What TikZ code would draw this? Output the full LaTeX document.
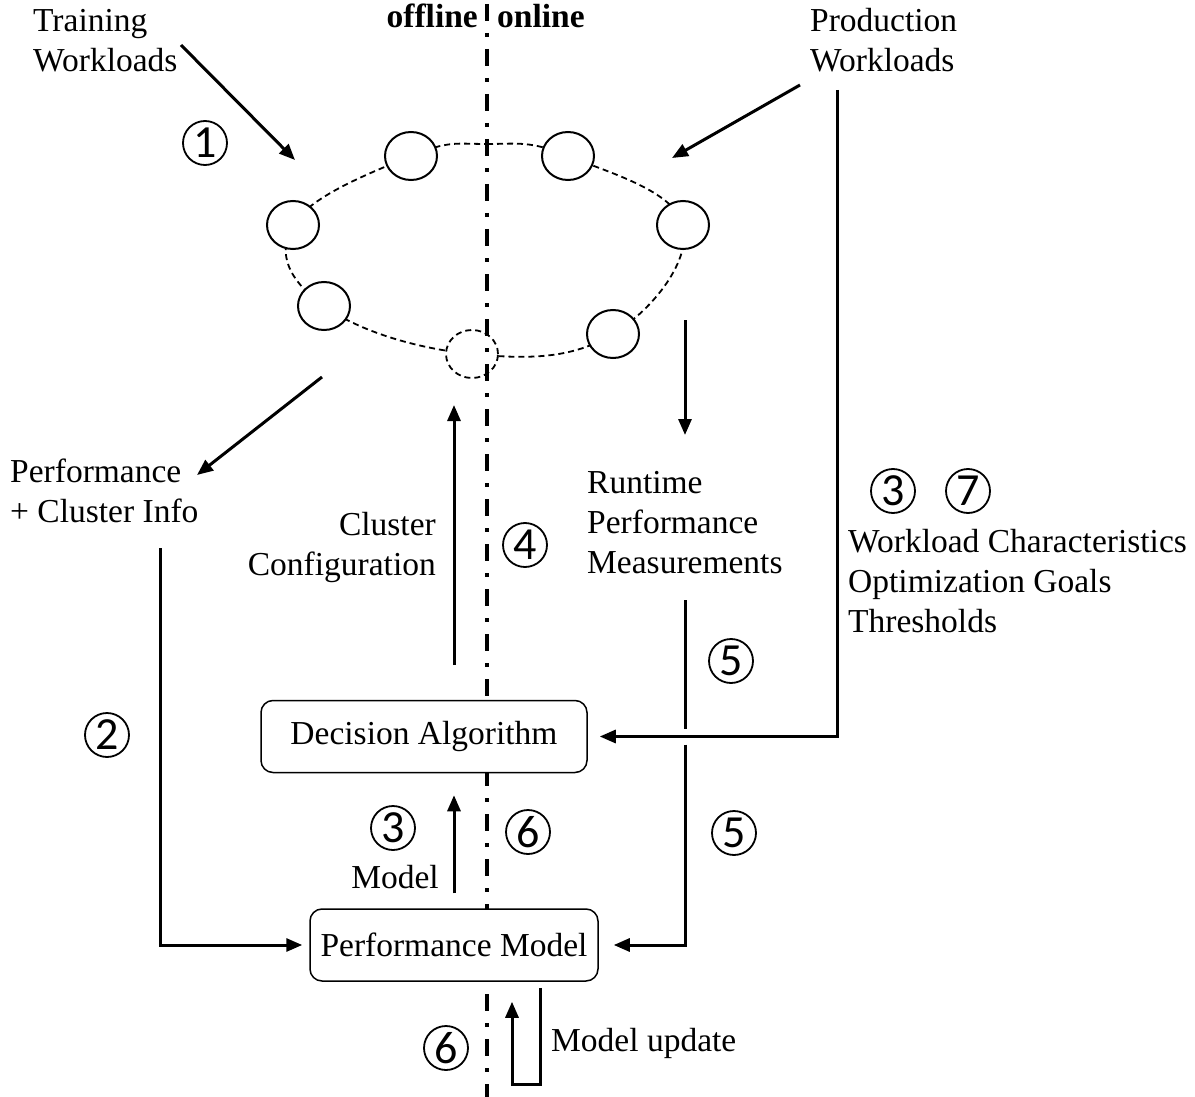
\documentclass[tikz,border=0pt]{standalone}
\usepackage{fontspec}
\setmainfont{Liberation Serif}
\newfontfamily\numfont{Carlito}
\usetikzlibrary{arrows.meta,shapes.geometric}
\begin{document}
\begin{tikzpicture}[x=1pt,y=-1pt,
  every node/.style={font=\fontsize{33.5}{40}\selectfont, inner sep=0pt},
  flow/.style={line width=3pt, -{Triangle[length=16pt,width=13pt]}},
  wire/.style={line width=3pt},
  box/.style={draw, line width=1.5pt, rounded corners=12pt, fill=white, minimum height=72pt},
  tag/.style={draw, circle, line width=1.8pt, minimum size=44pt,
    font=\numfont\fontsize{46}{46}\selectfont},
  server/.style={draw, ellipse, line width=2pt, fill=white, minimum width=52pt, minimum height=48pt},
  ring/.style={line width=1.8pt, dash pattern=on 6pt off 4pt},
  divider/.style={line width=4pt, dash pattern=on 17pt off 12pt on 4pt off 12pt},
]
\useasboundingbox (0,0) rectangle (1195,1097);

% cluster ring
\draw[ring] plot[smooth cycle, tension=0.7] coordinates {
  (411,156) (487,144) (568,156) (683,225) (613,334) (472,354) (324,306) (293,225)};
\node[server] (s1) at (411,156) {};
\node[server] (s2) at (568,156) {};
\node[server] (s3) at (293,225) {};
\node[server] (s4) at (683,225) {};
\node[server] (s5) at (324,306) {};
\node[server] (s6) at (613,334) {};
\node[server, ring, fill=white] (s7) at (472,354) {};

% offline / online divider
\coordinate (div-top) at (487,4);
\coordinate (div-bot) at (487,1097);
\draw[divider] (div-top) -- (div-bot);
\node[anchor=base east, font=\fontsize{33.5}{40}\selectfont\bfseries] (offline) at (478,28) {offline};
\node[anchor=base west, font=\fontsize{33.5}{40}\selectfont\bfseries] (online) at (497,28) {online};

% boxes
\node[box, minimum width=326pt] (dec) at (424,736.5) {Decision Algorithm};
\node[box, minimum width=288pt] (pm) at (454,945) {Performance Model};

% labels (anchored on the baseline of their last line)
\node[anchor=base west, align=left] (train) at (33,72) {Training\\Workloads};
\node[anchor=base west, align=left] (prod) at (810,72) {Production\\Workloads};
\node[anchor=base west, align=left] (perf) at (10,522) {Performance\\+ Cluster Info};
\node[anchor=base east, align=right] (conf) at (436,575) {Cluster\\Configuration};
\node[anchor=base west, align=left] (rt) at (587,573) {Runtime\\Performance\\Measurements};
\node[anchor=base west, align=left] (goals) at (848,632) {Workload Characteristics\\Optimization Goals\\Thresholds};
\node[anchor=base east] (model) at (439,888) {Model};
\node[anchor=base west] (upd) at (551,1051) {Model update};

% step markers
\node[tag] (t1) at (205,143) {1};
\node[tag] (t2) at (107,735) {2};
\node[tag] (t3a) at (393,828) {3};
\node[tag] (t4) at (525,545) {4};
\node[tag] (t5a) at (731,661) {5};
\node[tag] (t5b) at (734,833) {5};
\node[tag] (t6a) at (528,832) {6};
\node[tag] (t6b) at (446,1048) {6};
\node[tag] (t3b) at (893,491) {3};
\node[tag] (t7) at (968,491) {7};

% connector end points
\coordinate (train-out) at (181,45);
\coordinate (train-in) at (295,160);
\coordinate (prod-out) at (800,85);
\coordinate (prod-in) at (672,158);
\coordinate (goals-out) at (837,90);
\coordinate (ring-out) at (322,377);
\coordinate (perf-in) at (197,475);
\coordinate (perf-out) at (160,548);
\coordinate (ring-rt) at (685,320);
\coordinate (rt-in) at (685,435);
\coordinate (rt-out) at (685,600);
\coordinate (conf-out) at (454,665);
\coordinate (conf-in) at (454,405);
\coordinate (cross) at (rt-out |- dec.east);

% connectors
\draw[flow] (train-out) -- (train-in);
\draw[flow] (prod-out) -- (prod-in);
\draw[flow] (ring-out) -- (perf-in);
\draw[flow] (ring-rt) -- (rt-in);
\draw[flow] (conf-out) -- (conf-in);
\draw[flow, shorten >=12pt] (goals-out) |- (dec.east);
\draw[wire] (rt-out) -- ([yshift=8pt]cross);
\draw[flow, shorten >=15pt] ([yshift=-8pt]cross) |- (pm.east);
\draw[flow, shorten >=7pt] (perf-out) |- (pm.west);
\draw[flow, shorten <=15pt, shorten >=22pt] (pm.north) -- (pm.north |- dec.south);
\draw[flow] ([xshift=86pt,yshift=-6pt]pm.south) -- ++(0,97) -| ([xshift=58pt,yshift=-20pt]pm.south);
\end{tikzpicture}
\end{document}
